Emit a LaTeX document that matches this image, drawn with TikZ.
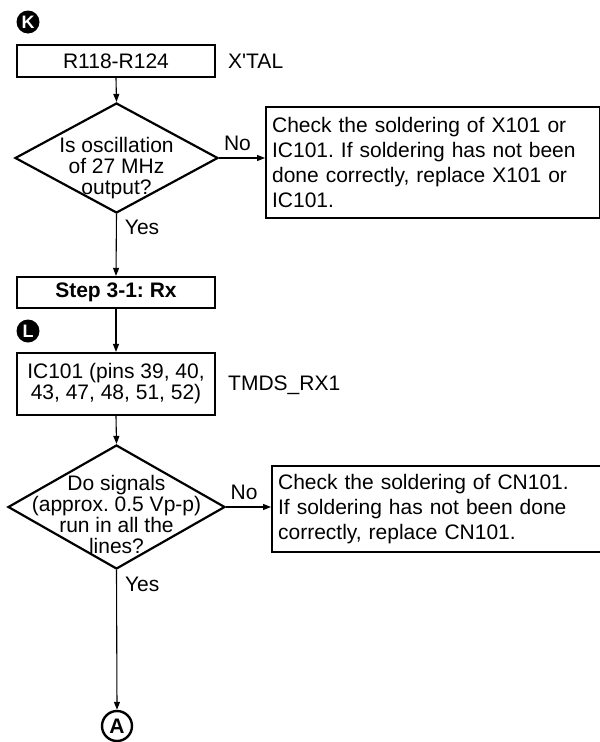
\documentclass[tikz,border=0pt]{standalone}
\usepackage{fontspec}
\setmainfont{Liberation Sans}
\usetikzlibrary{arrows.meta,positioning,shapes.geometric}
\definecolor{FCInk}{HTML}{000000}
\frenchspacing
\tikzset{
  flowbox/.style={draw=FCInk,line width=2.2pt,minimum width=198pt,inner sep=0pt,
                  align=center,font=\fontsize{21}{21}\selectfont},
  checkbox/.style={draw=FCInk,line width=2.2pt,anchor=north west,align=left,
                   inner xsep=6pt,inner ysep=0pt,font=\fontsize{21}{25}\selectfont},
  decide/.style={diamond,draw=FCInk,line width=2.2pt,inner sep=0pt},
  qtext/.style={align=center,inner sep=0pt,font=\fontsize{21}{21}\selectfont},
  note/.style={anchor=west,inner sep=0pt,font=\fontsize{21}{21}\selectfont},
  answer/.style={inner sep=0pt,font=\fontsize{21}{21}\selectfont},
  badge/.style={circle,fill=FCInk,text=white,inner sep=0pt,minimum size=23pt,
                font=\fontsize{18}{18}\selectfont\bfseries},
  joint/.style={circle,draw=FCInk,line width=2.4pt,inner sep=0pt,minimum size=30pt,
                font=\fontsize{21}{21}\selectfont\bfseries},
  flow/.style={draw=FCInk,line width=1.1pt,-{Triangle[length=8pt,width=6pt]}},
}
\begin{document}
\begin{tikzpicture}[x=1pt,y=-1pt]
  \useasboundingbox (0,0) rectangle (600,742);
  \node[badge] (badgeK) at (28,22) {K};
  \node[flowbox,minimum height=32pt] (r118) at (116,61) {R118-R124};
  \node[note] (xtal) at (228,61) {X\textquotesingle TAL};
  \node[decide,minimum width=203pt,minimum height=110pt] (osc) at (116.5,158) {};
  \node[qtext] (osctext) at (116.5,168) {Is oscillation\\of 27 MHz\\output?};
  \node[checkbox,text width=322pt,minimum height=111pt] (fixX) at (265,106)
    {Check the soldering of X101 or\\IC101. If soldering has not been\\done correctly, replace X101 or\\IC101.};
  \node[flowbox,minimum height=31pt,font=\fontsize{21}{21}\selectfont\bfseries] (step) at (116,292.5) {Step 3-1: Rx};
  \node[badge] (badgeL) at (28,331) {L};
  \node[flowbox,minimum height=62pt] (ic) at (116,384) {IC101 (pins 39, 40,\\43, 47, 48, 51, 52)};
  \node[note] (tmds) at (228,385) {TMDS\_RX1};
  \node[decide,minimum width=217pt,minimum height=124pt] (sig) at (116.5,507) {};
  \node[qtext] (sigtext) at (116.5,514) {Do signals\\(approx. 0.5 Vp-p)\\run in all the\\lines?};
  \node[checkbox,text width=318pt,minimum height=86pt] (fixCN) at (271,465)
    {Check the soldering of CN101.\\If soldering has not been done\\correctly, replace CN101.};
  \node[joint] (jointA) at (117,726) {A};
  \draw[flow] (r118.south) -- (osc.north);
  \draw[flow] (osc.east) -- (osc.east -| fixX.west) node[answer,pos=0.4,above=7pt] {No};
  \draw[flow] (osc.south) -- (step.north) node[note,pos=0.22,right=8pt] {Yes};
  \draw[flow] (step.south) -- (ic.north);
  \draw[flow] (ic.south) -- (sig.north);
  \draw[flow] (sig.east) -- (sig.east -| fixCN.west) node[answer,pos=0.4,above=7pt] {No};
  \draw[flow] (sig.south) -- (jointA.north) node[note,pos=0.1,right=8pt] {Yes};
\end{tikzpicture}
\end{document}
